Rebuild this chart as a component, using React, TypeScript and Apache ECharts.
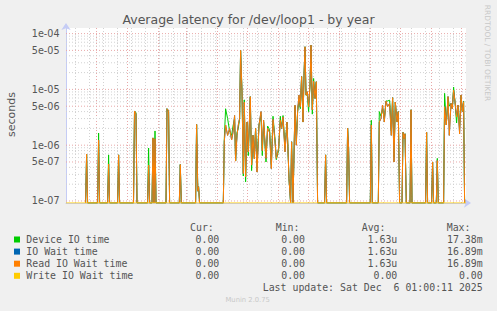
import { useEffect, useRef } from 'react';
import * as echarts from 'echarts';

// ---------- data ----------
const DAY_MS = 86400000;
const END_TS = Date.UTC(2025, 11, 6, 1, 0, 11);
const START_TS = END_TS - 400 * DAY_MS;

const TITLE = 'Average latency for /dev/loop1 - by year';
const Y_AXIS_NAME = 'seconds';
const LAST_UPDATE = 'Last update: Sat Dec  6 01:00:11 2025';
const FOOTER = 'Munin 2.0.75';
const SIDE_TEXT = 'RRDTOOL / TOBI OETIKER';

const Y_MIN = 9.2e-8;
const Y_MAX = 1.26e-4;
const Y_TICK_VALUES = [1e-4, 5e-5, 1e-5, 5e-6, 1e-6, 5e-7, 1e-7];
const Y_TICK_LABELS = ['1e-04', '5e-05', '1e-05', '5e-06', '1e-06', '5e-07', '1e-07'];

const X_TICK_LABELS = ['January 2025', 'April 2025', 'July 2025', 'October 2025'];
const X_TICK_DATES = [
  Date.UTC(2025, 0, 16, 12),
  Date.UTC(2025, 3, 16, 0),
  Date.UTC(2025, 6, 17, 0),
  Date.UTC(2025, 9, 16, 12),
];

// day offsets from the start of the 400-day window
const DAYS = [
  19.6, 20.6, 21.6, 31.6, 32.6, 33.6, 41.6, 42.6, 43.6, 51.6, 52.6, 53.6,
  67.5, 68.5, 70, 71, 81.6, 82.6, 83.6, 86, 87, 88, 89, 90,
  100, 101, 102.6, 103.6, 113.3, 114.3, 115.3, 129.6, 130.6, 131.8, 132.6, 133.6,
  157.3, 158.3, 159.6, 161.6, 163.6, 165.6, 167, 168.6, 169.6, 171, 172.3, 173.6,
  174.6, 176, 177.3, 178.3, 179.6, 181, 182.3, 184.3, 185.6, 187, 188.3, 189.6,
  191, 193, 195, 196.3, 197.6, 200, 201.6, 203.6, 205.3, 207, 209, 210.3,
  212.6, 214.3, 215.6, 217, 219, 221, 223, 224.6, 225.6, 227, 229, 230.3,
  231.6, 233, 234.3, 235.6, 237, 238, 239, 240, 241.3, 242.6, 244, 245,
  246.3, 247.6, 249, 250.3, 251.6, 258.6, 259.6, 260.6, 280.6, 281.6, 282.6, 283.6,
  304.3, 305.3, 306.3, 312.3, 313.3, 315, 316.6, 318.3, 320, 321.6, 323.6, 325.3,
  326.6, 328, 329.3, 331, 332.3, 333.6, 336, 337, 338, 339, 340.3, 344,
  345, 346, 359.6, 360.6, 361.6, 365.6, 366.6, 367.6, 370.3, 371.3, 372.3, 377.6,
  378.6, 380.3, 382, 383.3, 385, 386.3, 387.6, 389, 390.6, 392, 393.6, 395,
  396.3, 397.6, 398.6,
];

const READ_IO_WAIT = [
  0, 6.9e-7, 0, 0, 1.23e-6, 0, 0, 4.6e-7, 0, 0, 6.7e-7, 0,
  0, 4.1e-6, 3.6e-6, 0, 0, 4.4e-7, 0, 0, 1.35e-6, 0, 1.3e-6, 0,
  0, 4.5e-6, 4.2e-6, 0, 0, 4.5e-7, 0, 0, 2.35e-6, 1.5e-7, 1.8e-7, 0,
  0, 1.17e-6, 2.3e-6, 1.5e-6, 2.0e-6, 1.24e-6, 1.7e-6, 3.4e-6, 5.2e-7, 1.5e-6, 2.3e-6, 3.0e-6,
  5.0e-5, 9.1e-6, 3.1e-7, 5.9e-6, 2.7e-7, 2.6e-6, 7.6e-7, 7.4e-6, 4.4e-7, 1.5e-6, 5.7e-7, 2.0e-6,
  3.3e-7, 2.3e-6, 4.0e-6, 8e-7, 2.8e-6, 5.8e-7, 2.0e-6, 1.7e-6, 3.8e-7, 2.9e-6, 1.15e-6, 5.8e-7,
  8.8e-7, 2.8e-6, 2.0e-6, 3.2e-6, 7.6e-7, 2.6e-6, 2.5e-7, 0, 1.15e-6, 0, 5.2e-6, 1.0e-6,
  4.0e-6, 7.9e-6, 4.9e-6, 1.7e-5, 2.6e-6, 1.8e-5, 5.8e-5, 7.9e-6, 9.1e-6, 4.9e-6, 1.2e-5, 6.2e-5,
  4.3e-6, 1.4e-5, 6.9e-6, 1.37e-5, 0, 0, 6.7e-7, 0, 0, 2.0e-6, 9e-7, 0,
  0, 2.3e-6, 0, 0, 2.6e-6, 3.0e-6, 5.2e-6, 2.6e-6, 6.2e-6, 4.9e-6, 5.6e-6, 1.5e-6,
  7.1e-6, 5.0e-7, 5.9e-6, 2.6e-6, 4.0e-6, 0, 0, 1.7e-6, 1.3e-6, 1.6e-6, 0, 0,
  4.3e-6, 0, 0, 1.7e-6, 0, 0, 5e-7, 0, 0, 5.3e-7, 0, 0,
  4.9e-6, 2.3e-6, 7.4e-6, 1.5e-6, 5.6e-6, 4.5e-6, 9.7e-6, 6.0e-6, 3.2e-6, 5.2e-6, 1.6e-6, 7.9e-6,
  4.0e-6, 6.0e-6, 0,
];

const DEVICE_IO_TIME = [
  0, 6.9e-7, 0, 0, 1.65e-6, 0, 0, 6.7e-7, 0, 0, 6.7e-7, 0,
  0, 4.1e-6, 3.8e-6, 0, 0, 8.9e-7, 0, 0, 1.35e-6, 0, 1.8e-6, 0,
  0, 4.5e-6, 3.9e-6, 0, 0, 4.5e-7, 0, 0, 2.35e-6, 1.5e-7, 1.8e-7, 0,
  0, 1.3e-6, 4.5e-6, 3.0e-6, 1.8e-6, 1.5e-6, 2.2e-6, 3.0e-6, 5.2e-7, 1.7e-6, 2.0e-6, 3.0e-6,
  5.0e-5, 9.1e-6, 2.8e-7, 6.5e-6, 2.2e-7, 2.6e-6, 6.5e-7, 7.4e-6, 3.5e-7, 1.5e-6, 6e-7, 2.0e-6,
  5e-7, 2.3e-6, 3.5e-6, 6.5e-7, 2.6e-6, 5.0e-7, 2.2e-6, 1.9e-6, 4.5e-7, 3.3e-6, 1.3e-6, 5.5e-7,
  8.0e-7, 3.3e-6, 2.0e-6, 3.4e-6, 9.0e-7, 2.6e-6, 2.5e-7, 0, 1.15e-6, 0, 5.0e-6, 1.2e-6,
  4.0e-6, 6.5e-6, 4.5e-6, 1.7e-5, 2.6e-6, 1.8e-5, 5.8e-5, 7.9e-6, 8.0e-6, 4.0e-6, 1.2e-5, 6.2e-5,
  3.6e-6, 1.57e-5, 6.9e-6, 1.37e-5, 0, 0, 6.7e-7, 0, 0, 2.0e-6, 9e-7, 0,
  0, 2.8e-6, 0, 0, 4.0e-6, 3.3e-6, 4.5e-6, 3.0e-6, 6.2e-6, 6.2e-6, 6.4e-6, 1.8e-6,
  7.1e-6, 6e-7, 5.9e-6, 2.6e-6, 4.0e-6, 0, 0, 1.7e-6, 1.3e-6, 1.6e-6, 0, 0,
  4.3e-6, 0, 0, 1.7e-6, 0, 0, 5e-7, 0, 0, 5.8e-7, 0, 0,
  8.5e-6, 2.3e-6, 7.4e-6, 5.0e-6, 5.6e-6, 4.5e-6, 1.1e-5, 6.0e-6, 2.5e-6, 5.2e-6, 2.0e-6, 7.9e-6,
  4.0e-6, 6.2e-6, 0,
];

const IO_WAIT_TIME = READ_IO_WAIT; // identical in the source
const WRITE_DAYS = [0, 400];
const WRITE_IO_WAIT = [0, 0];

const SERIES_NAMES = ['Device IO time', 'IO Wait time', 'Read IO Wait time', 'Write IO Wait time'];
const SERIES_COLORS = ['#00CC00', '#0066B3', '#FF8000', '#FFCC00'];
const STAT_HEADERS = ['Cur:', 'Min:', 'Avg:', 'Max:'];
const STAT_CUR = ['0.00', '0.00', '0.00', '0.00'];
const STAT_MIN = ['0.00', '0.00', '0.00', '0.00'];
const STAT_AVG = ['1.63u', '1.63u', '1.63u', '0.00'];
const STAT_MAX = ['17.38m', '16.89m', '16.89m', '0.00'];

// ---------- helpers ----------
const toPoints = (days: number[], vals: number[]) =>
  days.map((d, i) => [START_TS + d * DAY_MS, vals[i] > 0 ? vals[i] : Y_MIN]);

const SANS = 'DejaVu Sans';
const MONO = 'DejaVu Sans Mono';
const TXT = '#555555';
const RED_GRID = '#e8a8a8';
const GRAY_GRID = '#d2d2d2';
const AXIS_BLUE = '#c5ccf5';

export default function App() {
  const ref = useRef<HTMLDivElement>(null);

  useEffect(() => {
    document.body.style.margin = '0';
    document.body.style.background = '#f0f0f0';
    const chart = echarts.init(ref.current!, null, { renderer: 'svg' });

    // horizontal grid lines (log decades) as thin series on the log axis
    const hSeries: any[] = [];
    for (let e = -8; e <= -4; e++) {
      for (let m = 1; m <= 9; m++) {
        const v = m * Math.pow(10, e);
        if (v < Y_MIN || v > Y_MAX) continue;
        const major = m === 1 || m === 5;
        const idx = Y_TICK_VALUES.findIndex((t) => Math.abs(t - v) / t < 1e-6);
        hSeries.push({
          type: 'line',
          silent: true,
          z: 1,
          showSymbol: idx >= 0,
          symbol: 'circle',
          symbolSize: 1,
          itemStyle: { color: 'rgba(0,0,0,0)' },
          lineStyle: { color: major ? RED_GRID : GRAY_GRID, type: [1, 2], width: 1 },
          data: [
            idx >= 0
              ? {
                  value: [START_TS, v],
                  label: {
                    show: true,
                    position: 'left',
                    distance: 6,
                    formatter: Y_TICK_LABELS[idx],
                    color: TXT,
                    fontSize: 9.6,
                    fontFamily: SANS,
                  },
                }
              : [START_TS, v],
            { value: [END_TS, v], label: { show: false } },
          ],
        });
      }
    }

    // vertical grid lines: month starts (major) and fortnights (minor)
    const vLines: any[] = [];
    for (let k = 0; k < 30; k++) {
      const t = Date.UTC(2024, 10 + k, 1);
      if (t <= START_TS) continue;
      if (t >= END_TS) break;
      vLines.push({ xAxis: t, lineStyle: { color: RED_GRID, type: [1, 2], width: 1 }, label: { show: false } });
    }
    for (let k = 0; k < 40; k++) {
      const t = Date.UTC(2024, 10, 10) + k * 14 * DAY_MS;
      if (t >= END_TS) break;
      vLines.push({ xAxis: t, lineStyle: { color: GRAY_GRID, type: [1, 2], width: 1 }, label: { show: false } });
    }
    // x tick labels (mid-month)
    X_TICK_DATES.forEach((t, i) => {
      vLines.push({
        xAxis: t,
        lineStyle: { width: 0, opacity: 0 },
        label: {
          show: true,
          position: 'start',
          distance: 4,
          formatter: X_TICK_LABELS[i],
          color: TXT,
          fontSize: 9.6,
          fontFamily: SANS,
        },
      });
    });

    const lineSeries = (name: string, color: string, data: any[], z: number) => ({
      name,
      type: 'line',
      data,
      showSymbol: false,
      symbol: 'none',
      clip: true,
      z,
      lineStyle: { color, width: 1 },
      itemStyle: { color },
      silent: true,
    });

    const graphics: any[] = [
      {
        type: 'text',
        x: 248.5,
        y: 19.5,
        style: { text: TITLE, fill: TXT, font: `12.5px "${SANS}"`, align: 'center', verticalAlign: 'middle' },
      },
      {
        type: 'text',
        x: 11.5,
        y: 114.5,
        rotation: Math.PI / 2,
        style: { text: Y_AXIS_NAME, fill: TXT, font: `11px "${SANS}"`, align: 'center', verticalAlign: 'middle' },
      },
      {
        type: 'text',
        x: 487.5,
        y: 53,
        rotation: -Math.PI / 2,
        style: { text: SIDE_TEXT, fill: '#c8c8c8', font: `7.5px "${SANS}"`, align: 'center', verticalAlign: 'middle' },
      },
      {
        type: 'text',
        x: 247.7,
        y: 300,
        style: { text: FOOTER, fill: '#c8c8c8', font: `6.8px "${SANS}"`, align: 'center', verticalAlign: 'middle' },
      },
      {
        type: 'text',
        x: 482.7,
        y: 287.7,
        style: { text: LAST_UPDATE, fill: TXT, font: `9.9px "${MONO}"`, align: 'right', verticalAlign: 'middle' },
      },
    ];
    const headerX = [190, 275.7, 361.7, 446.7];
    STAT_HEADERS.forEach((h, i) => {
      graphics.push({
        type: 'text',
        x: headerX[i],
        y: 227.7,
        style: { text: h, fill: TXT, font: `9.9px "${MONO}"`, align: 'left', verticalAlign: 'middle' },
      });
    });
    const valueRight = [219.3, 305, 397.3, 482.7];
    const cols = [STAT_CUR, STAT_MIN, STAT_AVG, STAT_MAX];
    SERIES_NAMES.forEach((n, r) => {
      const y = 239.5 + r * 12.1;
      graphics.push({
        type: 'rect',
        shape: { x: 14, y: y - 3, width: 6, height: 6 },
        style: { fill: SERIES_COLORS[r] },
      });
      graphics.push({
        type: 'text',
        x: 26.3,
        y,
        style: { text: n, fill: TXT, font: `9.9px "${MONO}"`, align: 'left', verticalAlign: 'middle' },
      });
      cols.forEach((c, j) => {
        graphics.push({
          type: 'text',
          x: valueRight[j],
          y,
          style: { text: c[r], fill: TXT, font: `9.9px "${MONO}"`, align: 'right', verticalAlign: 'middle' },
        });
      });
    });

    chart.setOption({
      animation: false,
      backgroundColor: '#f0f0f0',
      grid: {
        left: 66,
        right: 31,
        top: 28,
        bottom: 108,
        show: true,
        backgroundColor: '#ffffff',
        borderWidth: 0,
        containLabel: false,
      },
      xAxis: {
        type: 'time',
        min: START_TS,
        max: END_TS,
        axisLine: {
          show: true,
          onZero: false,
          lineStyle: { color: AXIS_BLUE, width: 1 },
          symbol: ['none', 'arrow'],
          symbolSize: [7, 7],
          symbolOffset: [0, 5],
        },
        axisTick: { show: false },
        axisLabel: { show: false },
        splitLine: { show: false },
      },
      yAxis: {
        type: 'log',
        logBase: 10,
        min: Y_MIN,
        max: Y_MAX,
        axisLine: {
          show: true,
          lineStyle: { color: AXIS_BLUE, width: 1 },
          symbol: ['none', 'arrow'],
          symbolSize: [7, 7],
          symbolOffset: [0, 5],
        },
        axisTick: { show: false },
        axisLabel: { show: false },
        splitLine: { show: false },
        minorSplitLine: { show: false },
      },
      series: [
        {
          name: 'vgrid',
          type: 'line',
          data: [[START_TS, Y_MAX * 10]],
          symbol: 'none',
          lineStyle: { opacity: 0 },
          silent: true,
          z: 1,
          markLine: {
            z: 1,
            silent: true,
            symbol: ['none', 'none'],
            animation: false,
            data: vLines,
          },
        },
        ...hSeries,
        lineSeries(SERIES_NAMES[0], SERIES_COLORS[0], toPoints(DAYS, DEVICE_IO_TIME), 3),
        lineSeries(SERIES_NAMES[1], SERIES_COLORS[1], toPoints(DAYS, IO_WAIT_TIME), 4),
        lineSeries(SERIES_NAMES[2], SERIES_COLORS[2], toPoints(DAYS, READ_IO_WAIT), 5),
        lineSeries(SERIES_NAMES[3], SERIES_COLORS[3], toPoints(WRITE_DAYS, WRITE_IO_WAIT), 6),
      ],
      graphic: graphics,
    });

    return () => chart.dispose();
  }, []);

  return <div ref={ref} style={{ width: 497, height: 311, background: '#f0f0f0' }} />;
}
